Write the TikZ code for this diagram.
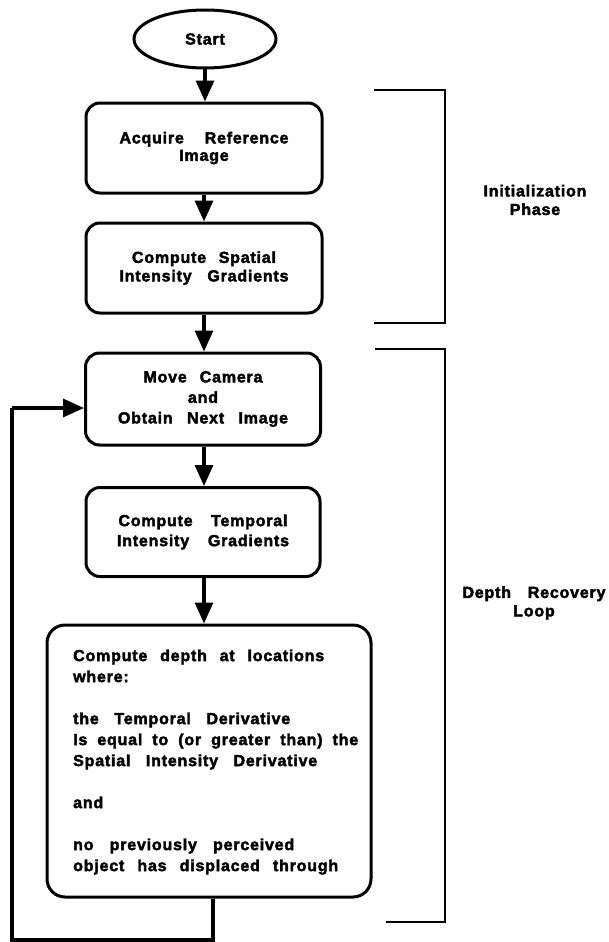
\documentclass[tikz,border=0pt]{standalone}
\usepackage{fontspec}
\setmainfont{Liberation Sans}[LetterSpace=5,BoldFeatures={FakeBold=2.5}]
\usetikzlibrary{shapes.geometric,arrows.meta}
\newcommand\fitline[2]{\makebox[#1pt][s]{#2}}
\begin{document}
\begin{tikzpicture}[x=1pt,y=-1pt,
  txt/.style={font=\bfseries\fontsize{16}{#1}\selectfont},
  box/.style={draw,line width=3pt,rounded corners=14pt,minimum width=236pt,
    minimum height=90pt,align=center,inner sep=0pt},
  conn/.style={line width=3.2pt,-{Triangle[length=21pt,width=18pt]}},
  plain/.style={line width=3.2pt},
  bracket/.style={line width=2pt},
  side/.style={align=center,inner sep=0pt,txt=18.5}]
\useasboundingbox (0,0) rectangle (609,942);
% nodes
\node[draw,ellipse,line width=3pt,minimum width=142pt,minimum height=58pt,
  inner sep=0pt,txt=18] (start) at (205,39) {Start};
\node[box,txt=17.5] (b1) at (204,148) {\fitline{169}{Acquire Reference}\\Image};
\node[box,txt=18.5] (b2) at (204,268)
  {\fitline{144}{Compute Spatial}\\\fitline{169}{Intensity Gradients}};
\node[box,minimum width=235pt,minimum height=92pt,txt=20.5] (b3) at (203,399)
  {\fitline{119}{Move Camera}\\and\\\fitline{170}{Obtain Next Image}};
\node[box,minimum width=234pt,minimum height=89pt,txt=20] (b4) at (203,532)
  {\fitline{169}{Compute Temporal}\\\fitline{172}{Intensity Gradients}};
\node[draw,line width=3pt,rounded corners=18pt,minimum width=324pt,
  minimum height=272pt,inner sep=0pt] (b5) at (209,761) {};
\node[anchor=west,align=left,inner sep=0pt,txt=21] (b5t) at (73,762)
  {\fitline{251}{Compute depth at locations}\\
   where:\\[21pt]
   \fitline{217}{the Temporal Derivative}\\
   \fitline{285}{Is equal to (or greater than) the}\\
   \fitline{244}{Spatial Intensity Derivative}\\[21pt]
   and\\[21pt]
   \fitline{221}{no previously perceived}\\
   \fitline{265}{object has displaced through}};
\node[side] (init) at (535,200) {Initialization\\Phase};
\node[side] (depth) at (534,603) {\fitline{143}{Depth Recovery}\\Loop};
% connectors
\draw[conn] (start.south) -- (start.south |- b1.north);
\draw[conn] (b1.south) -- (b1.south |- b2.north);
\draw[conn] (b2.south) -- (b2.south |- b3.north);
\draw[conn] (b2.south |- b3.south) -- (b2.south |- b4.north);
\draw[conn] (b2.south |- b4.south) -- (b2.south |- b5.north);
\coordinate (d1) at (213,940);
\coordinate (d2) at (12,940);
\coordinate (d3) at (12,408);
\draw[plain,line join=miter] (d1 |- b5.south) -- (d1) -- (d2) -- (d3);
\draw[conn] (d3) -- (d3 -| b3.west);
% brackets
\coordinate (k1a) at (374,90);
\coordinate (k1b) at (445,90);
\coordinate (k1c) at (445,323);
\coordinate (k1d) at (374,323);
\draw[bracket] (k1a) -- (k1b) -- (k1c) -- (k1d);
\coordinate (k2a) at (375,349);
\coordinate (k2b) at (445,349);
\coordinate (k2c) at (445,922);
\coordinate (k2d) at (386,922);
\draw[bracket] (k2a) -- (k2b) -- (k2c) -- (k2d);
\end{tikzpicture}
\end{document}
